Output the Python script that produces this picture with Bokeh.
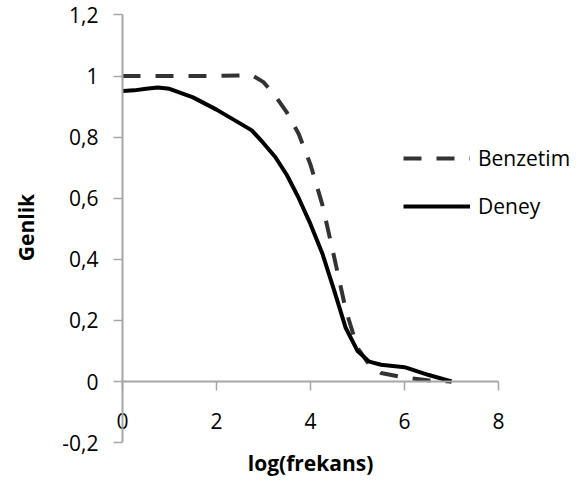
import math
from bokeh.plotting import figure
from bokeh.models import (Range1d, FixedTicker, CustomJSTickFormatter, Legend, LegendItem, Label)
from bokeh.embed import file_html
from bokeh.resources import INLINE

# Data
benzetim_x = [0, 0.5, 1, 1.5, 2, 2.5, 2.75, 3, 3.25, 3.5, 3.75, 4, 4.25, 4.5, 4.75, 5, 5.25, 5.5, 6, 6.5, 7]
benzetim_y = [1, 1, 1, 1, 1, 1.002, 1.003, 0.98, 0.935, 0.88, 0.81, 0.71, 0.58, 0.41, 0.235, 0.11, 0.055, 0.028, 0.013, 0.004, 0]
deney_x = [0, 0.25, 0.5, 0.75, 1, 1.5, 2, 2.5, 2.75, 3, 3.25, 3.5, 3.75, 4, 4.25, 4.5, 4.75, 5, 5.25, 5.5, 6, 6.5, 7]
deney_y = [0.951, 0.953, 0.958, 0.962, 0.958, 0.93, 0.89, 0.845, 0.822, 0.78, 0.735, 0.675, 0.60, 0.515, 0.42, 0.30, 0.175, 0.10, 0.065, 0.055, 0.047, 0.022, 0.0]
x_ticks = [0, 2, 4, 6, 8]
y_ticks = [-0.2, 0, 0.2, 0.4, 0.6, 0.8, 1.0, 1.2]
series_names = ["Benzetim", "Deney"]
x_title = "log(frekans)"
y_title = "Genlik"

FONT = "Open Sans"
FS = "21px"
AXIS_COLOR = "#a6a6a6"

# Layout: whole canvas is the frame; axes sit at fixed data locations
W, H = 585, 481
X0_PX, PX_PER_X = 122, 47.0      # pixel of x=0, pixels per x unit
Y0_PX, PX_PER_Y = 381, 305.5     # pixel of y=0, pixels per y unit
x_range = Range1d(-X0_PX / PX_PER_X, (W - X0_PX) / PX_PER_X)
y_range = Range1d(-(H - Y0_PX) / PX_PER_Y, Y0_PX / PX_PER_Y)

p = figure(width=W, height=H, output_backend="svg", toolbar_location=None,
           x_range=x_range, y_range=y_range,
           min_border_left=0, min_border_right=0, min_border_top=0, min_border_bottom=0)
p.outline_line_color = None
p.grid.visible = False
p.background_fill_color = "white"
p.border_fill_color = "white"

r1 = p.line(benzetim_x, benzetim_y, line_color="#333333", line_width=4, line_dash="18 15")
r2 = p.line(deney_x, deney_y, line_color="black", line_width=4)

def style_axis(ax):
    ax.axis_line_color = AXIS_COLOR
    ax.axis_line_width = 2
    ax.major_tick_line_color = AXIS_COLOR
    ax.major_tick_line_width = 1.5
    ax.major_tick_in = 0
    ax.major_tick_out = 9
    ax.minor_tick_line_color = None
    ax.major_label_text_font = FONT
    ax.major_label_text_font_size = FS
    ax.major_label_text_color = "black"

xa = p.xaxis[0]
xa.fixed_location = 0
xa.bounds = (x_ticks[0], x_ticks[-1])
xa.ticker = FixedTicker(ticks=x_ticks)
style_axis(xa)
xa.major_label_standoff = 22

ya = p.yaxis[0]
ya.fixed_location = 0
ya.bounds = (y_ticks[0], y_ticks[-1])
ya.ticker = FixedTicker(ticks=y_ticks)
ya.formatter = CustomJSTickFormatter(code="const s = (Math.round(tick*10)/10).toString(); return s.replace('.', ',');")
style_axis(ya)
ya.major_label_standoff = 15

# axis titles
p.add_layout(Label(x=(25 - X0_PX) / PX_PER_X, y=(Y0_PX - 227) / PX_PER_Y, text=y_title,
                   angle=math.pi / 2, text_align="center", text_baseline="middle",
                   text_font=FONT, text_font_size=FS, text_font_style="bold", text_color="black"))
p.add_layout(Label(x=(x_ticks[0] + x_ticks[-1]) / 2, y=(Y0_PX - 462) / PX_PER_Y, text=x_title,
                   text_align="center", text_baseline="middle",
                   text_font=FONT, text_font_size=FS, text_font_style="bold", text_color="black"))

legend = Legend(items=[LegendItem(label=series_names[0], renderers=[r1]),
                       LegendItem(label=series_names[1], renderers=[r2])],
                location=(403, 261), orientation="vertical",
                glyph_width=67, glyph_height=28, label_height=28, spacing=20,
                label_standoff=8, padding=0, margin=0,
                label_text_font=FONT, label_text_font_size=FS, label_text_color="black",
                border_line_color=None, background_fill_alpha=0)
p.add_layout(legend, "center")

open("out.html", "w").write(file_html(p, INLINE))
